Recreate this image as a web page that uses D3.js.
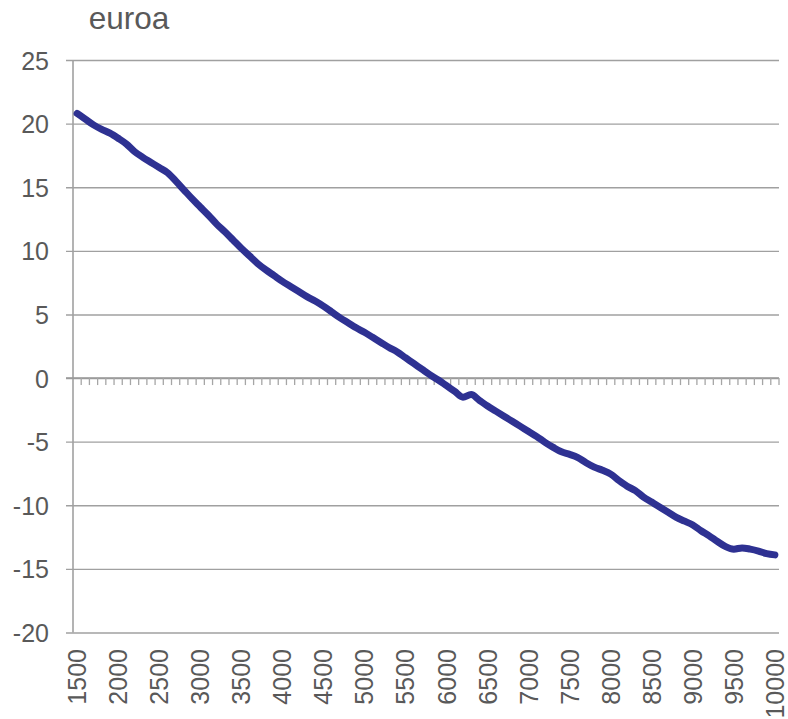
<!DOCTYPE html>
<html><head><meta charset="utf-8">
<script src="https://cdn.jsdelivr.net/npm/d3@7"></script>
<style>body{margin:0;background:#fff}svg{display:block}text{font-family:"Liberation Sans",Arial,sans-serif;fill:#595959}</style>
</head><body><svg id="c" width="788" height="719"></svg>
<script>
const title = "euroa";
const categories = d3.range(1500, 10001, 100);
const values = [20.8,20.35,19.9,19.55,19.25,18.85,18.4,17.8,17.35,16.95,
16.55,16.15,15.5,14.8,14.1,13.45,12.8,12.1,11.5,10.85,
10.2,9.6,9.0,8.5,8.05,7.6,7.2,6.8,6.4,6.05,
5.65,5.2,4.75,4.35,3.95,3.6,3.2,2.8,2.4,2.05,
1.6,1.15,0.7,0.25,-0.15,-0.6,-1.05,-1.5,-1.3,-1.75,
-2.2,-2.6,-3.0,-3.4,-3.8,-4.2,-4.6,-5.05,-5.45,-5.8,
-6.0,-6.25,-6.65,-7.0,-7.25,-7.55,-8.05,-8.5,-8.85,-9.35,
-9.75,-10.15,-10.55,-10.95,-11.25,-11.55,-12.0,-12.4,-12.85,-13.25,
-13.45,-13.35,-13.45,-13.6,-13.8,-13.9];
const yTicks = [25,20,15,10,5,0,-5,-10,-15,-20];
const xLabels = d3.range(1500, 10001, 500);

const svg = d3.select("#c");
const L = 73, R = 779, T = 60, B = 632.5;
const x = d3.scaleBand().domain(categories).range([L, R]).padding(0);
const y = d3.scaleLinear().domain([-20, 25]).range([B, T]);

// gridlines + y axis ticks
const yAxis = d3.axisLeft(y).tickValues(yTicks).tickSize(-(R - L)).tickSizeOuter(0).tickPadding(24).tickFormat(d => String(d));
const gy = svg.append("g").attr("transform", `translate(${L},0)`).call(yAxis);
gy.select(".domain").remove();
gy.selectAll(".tick line").attr("x1", -7).attr("stroke", "#a0a0a0").attr("stroke-width", 1.4);
gy.selectAll(".tick text").attr("font-size", 25).style("font-family", "'Liberation Sans', Arial, sans-serif").attr("fill", "#595959").attr("dy", "0.36em");

// y axis line
svg.append("line").attr("x1", L).attr("x2", L).attr("y1", T).attr("y2", B).attr("stroke", "#a0a0a0").attr("stroke-width", 1.6);

// category axis at zero with ticks between categories
const bounds = categories.map(c => x(c) + x.bandwidth());
svg.append("line").attr("x1", L - 7).attr("x2", R).attr("y1", y(0)).attr("y2", y(0)).attr("stroke", "#999").attr("stroke-width", 1.6);
svg.append("g").selectAll("line").data(bounds).join("line")
  .attr("x1", d => d).attr("x2", d => d).attr("y1", y(0)).attr("y2", y(0) + 7)
  .attr("stroke", "#a6a6a6").attr("stroke-width", 1.3);

// x labels (rotated)
svg.append("g").selectAll("text").data(xLabels).join("text")
  .attr("transform", d => `translate(${x(d) + x.bandwidth() / 2},649) rotate(-90)`)
  .attr("text-anchor", "end").attr("dy", "0.36em").attr("font-size", 25).text(d => d);

// line
const line = d3.line().x((d, i) => x(categories[i]) + x.bandwidth() / 2).y(d => y(d)).curve(d3.curveMonotoneX);
svg.append("path").datum(values).attr("d", line).attr("fill", "none")
  .attr("stroke", "#2E3192").attr("stroke-width", 7).attr("stroke-linecap", "round").attr("stroke-linejoin", "round");

// title
svg.append("text").attr("x", 129).attr("y", 29).attr("text-anchor", "middle").attr("font-size", 31.5).text(title);
</script></body></html>
